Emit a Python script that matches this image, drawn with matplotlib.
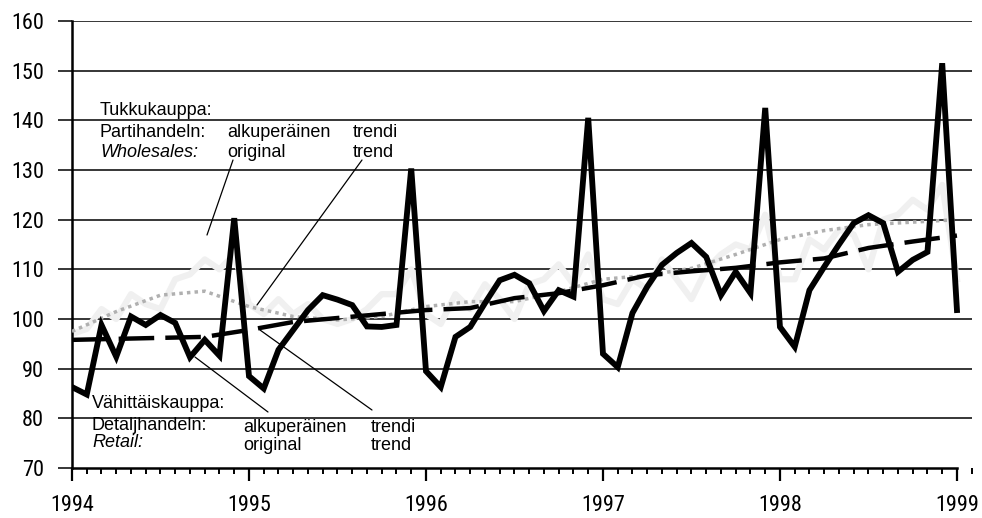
import numpy as np
import matplotlib
matplotlib.use("Agg")
import matplotlib.pyplot as plt
from matplotlib import font_manager
from matplotlib.ticker import MultipleLocator

# monthly series, Jan 1994 .. Jan 1999
retail_original = [
    86.3, 84.8, 98.8, 92.4, 100.5, 98.8, 100.8, 99.2, 92.3, 95.8, 92.6, 120.3,
    88.5, 86.0, 93.8, 97.8, 101.8, 104.8, 103.9, 102.8, 98.5, 98.4, 98.8, 130.3,
    89.5, 86.3, 96.4, 98.4, 103.2, 107.8, 108.9, 107.2, 101.6, 105.8, 104.5, 140.5,
    93.0, 90.3, 101.2, 106.5, 110.9, 113.3, 115.3, 112.5, 104.8, 109.5, 105.2, 142.5,
    98.4, 94.4, 105.8, 110.5, 115.0, 119.3, 120.9, 119.3, 109.5, 111.9, 113.5, 151.5,
    101.8]
wholesale_original = [
    97, 98, 102, 100, 105, 103, 102, 108, 109, 112, 110, 113,
    103, 101, 104, 101, 103, 100, 99, 100, 102, 105, 105, 110,
    101, 99, 105, 102, 107, 104, 100, 107, 108, 111, 107, 113,
    104, 103, 108, 106, 112, 108, 104, 110, 113, 115, 114, 121,
    108, 108, 116, 114, 118, 117, 110, 120, 121, 124, 122, 127,
    108]

# trends read at quarter points, 1994.0 .. 1999.0
quarters = [1994 + q / 4 for q in range(21)]
retail_trend = [95.8, 96.0, 96.2, 96.4, 97.8, 99.4, 100.2, 101.0, 101.8, 102.2, 104.2,
                105.2, 106.8, 108.8, 109.6, 110.3, 111.4, 112.2, 114.3, 115.6, 116.8]
wholesale_trend = [97.5, 101.5, 104.8, 105.6, 102.5, 100.5, 99.8, 100.5, 102.5, 103.5, 103.5,
                   105.5, 108.0, 108.8, 110.2, 113.0, 116.0, 117.8, 119.0, 119.5, 120.0]

year_labels = ["1994", "1995", "1996", "1997", "1998", "1999"]
months = 1994 + np.arange(len(retail_original)) / 12

# narrow font for the axis numbers if there is one
installed = {f.name for f in font_manager.fontManager.ttflist}
narrow = [n for n in ["Liberation Sans Narrow", "Roboto Condensed", "Open Sans Condensed",
                      "Noto Sans Condensed"] if n in installed]
NOTE_FONT = ["Liberation Sans", "DejaVu Sans"]
if narrow:
    TICK_FONT = [narrow[0], "DejaVu Sans"]
    tick_fs = 16
else:
    TICK_FONT = NOTE_FONT
    tick_fs = 14
plt.rcParams["font.family"] = TICK_FONT

fig = plt.figure(figsize=(9.82, 5.18), dpi=100)
ax = fig.add_axes([72 / 982, 50 / 518, 900 / 982, 447 / 518])

ax.set_xlim(1994, 1999.085)
ax.set_ylim(70, 160)

# grid
for v in range(80, 161, 10):
    ax.axhline(v, color="black", lw=1.1, zorder=1)

ax.plot(months, wholesale_original, color="#f0f0f0", lw=4.5, zorder=2)
ax.plot(quarters, wholesale_trend, color="#b0b0b0", lw=2.5,
        linestyle=(0, (1, 1.2)), zorder=3)
ax.plot(quarters, retail_trend, color="black", lw=3.2,
        linestyle=(0, (8, 2.5)), zorder=4)
ax.plot(months, retail_original, color="black", lw=4.2, zorder=5,
        solid_joinstyle="miter")

for s in ["top", "right"]:
    ax.spines[s].set_visible(False)
ax.spines["left"].set_linewidth(1.8)
ax.spines["bottom"].set_linewidth(1.8)
ax.spines["bottom"].set_bounds(1994, 1999)

ax.set_xticks(range(1994, 2000))
ax.set_xticklabels(year_labels)
ax.xaxis.set_minor_locator(MultipleLocator(1 / 12))
ax.yaxis.set_major_locator(MultipleLocator(10))
ax.tick_params(axis="x", which="major", direction="out", length=9.5, width=1.6,
               labelsize=tick_fs, pad=10)
ax.tick_params(axis="x", which="minor", direction="out", length=4, width=1.4)
ax.tick_params(axis="y", direction="out", length=10, width=1.1,
               labelsize=tick_fs, pad=10)


def dx(px):
    return 1994 + (px - 72) / 177.0


def dy(py):
    return 70 + (468 - py) / 4.967


txt = dict(fontsize=13, va="baseline", ha="left", zorder=6, family=NOTE_FONT)
ax.text(dx(100), dy(115), "Tukkukauppa:", **txt)
ax.text(dx(100), dy(136.5), "Partihandeln:", **txt)
ax.text(dx(100), dy(156.5), "Wholesales:", style="italic", **txt)
ax.text(dx(227), dy(136.5), "alkuperäinen", **txt)
ax.text(dx(227), dy(156.5), "original", **txt)
ax.text(dx(353), dy(136.5), "trendi", **txt)
ax.text(dx(353), dy(156.5), "trend", **txt)

ax.text(dx(92), dy(408), "Vähittäiskauppa:", **txt)
ax.text(dx(92), dy(430), "Detaljhandeln:", **txt)
ax.text(dx(92), dy(447), "Retail:", style="italic", **txt)
ax.text(dx(243), dy(432), "alkuperäinen", **txt)
ax.text(dx(243), dy(450), "original", **txt)
ax.text(dx(371), dy(432), "trendi", **txt)
ax.text(dx(371), dy(450), "trend", **txt)

pointer = dict(arrowstyle="-", color="black", lw=0.9, shrinkA=0, shrinkB=0)
ax.annotate("", xy=(dx(207), dy(235)), xytext=(dx(233), dy(160)), arrowprops=pointer)
ax.annotate("", xy=(dx(257), dy(305)), xytext=(dx(362), dy(160)), arrowprops=pointer)
ax.annotate("", xy=(dx(195), dy(357)), xytext=(dx(268), dy(412)), arrowprops=pointer)
ax.annotate("", xy=(dx(260), dy(330)), xytext=(dx(372), dy(410)), arrowprops=pointer)

fig.savefig("out.png", dpi=100)
